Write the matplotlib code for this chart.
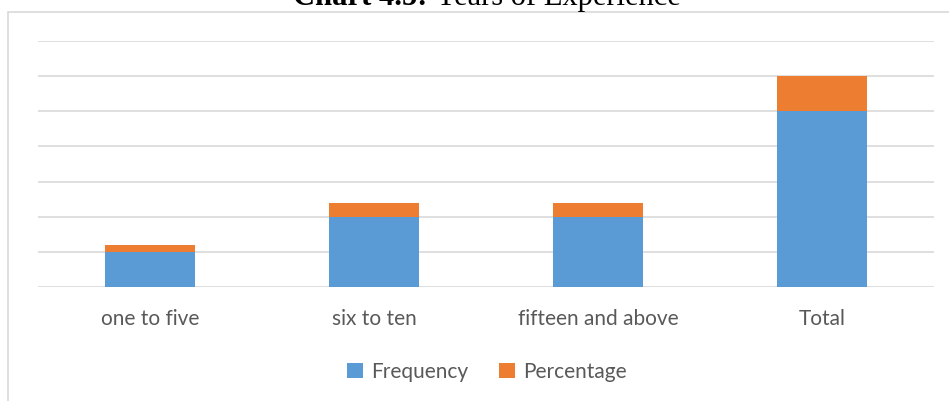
import matplotlib
matplotlib.use("Agg")
import matplotlib.pyplot as plt
from matplotlib.patches import Rectangle
import numpy as np

categories = ["one to five", "six to ten", "fifteen and above", "Total"]
frequency = [10, 20, 20, 50]
percentage = [2, 4, 4, 10]

W, H = 949, 401
fig = plt.figure(figsize=(W / 100, H / 100), dpi=100)
fig.patch.set_facecolor("white")

# chart border
fig.patches.append(Rectangle((8 / W, -0.05), 1.1, 1 - 12 / H + 0.05, transform=fig.transFigure,
                             fill=False, edgecolor="#d9d9d9", linewidth=1.2))

ax = fig.add_axes([38 / W, 1 - 287 / H, (934 - 38) / W, (287 - 41) / H])
x = np.arange(len(categories))
ax.bar(x, frequency, width=0.40, color="#5b9bd5", label="Frequency", zorder=3)
ax.bar(x, percentage, width=0.40, bottom=frequency, color="#ed7d31", label="Percentage", zorder=3)
ax.set_xlim(-0.5, len(categories) - 0.5)
ax.set_ylim(0, 70)
ax.set_yticks(np.arange(0, 71, 10))
ax.yaxis.grid(True, color="#d9d9d9", linewidth=1.2, zorder=0)
ax.tick_params(axis="y", left=False, labelleft=False)
ax.tick_params(axis="x", bottom=False, pad=12)
ax.set_xticks(x)
ax.set_xticklabels(categories, fontsize=15, color="#595959", family="Lato")
for s in ax.spines.values():
    s.set_visible(False)
ax.set_facecolor("none")

leg = fig.legend(loc="center", bbox_to_anchor=(487 / W, 1 - 372 / H), ncol=2, frameon=False,
                 prop={"family": "Lato", "size": 15}, handlelength=0.75, handleheight=0.75,
                 columnspacing=1.5, handletextpad=0.4)
for t in leg.get_texts():
    t.set_color("#595959")

# title (partially cut at top, as in the reference)
fig.canvas.draw()
r = fig.canvas.get_renderer()
t1 = fig.text(0, 1 - 5 / H, "Chart 4.5: ", fontsize=22, fontweight="bold", family="Liberation Serif",
              va="baseline", ha="left")
t2 = fig.text(0, 1 - 5 / H, "Years of Experience", fontsize=22, family="Liberation Serif",
              va="baseline", ha="left")
w1 = t1.get_window_extent(r).width
w2 = t2.get_window_extent(r).width
start = 487 - (w1 + w2) / 2
t1.set_x(start / W)
t2.set_x((start + w1) / W)

fig.savefig("out.png", dpi=100)
